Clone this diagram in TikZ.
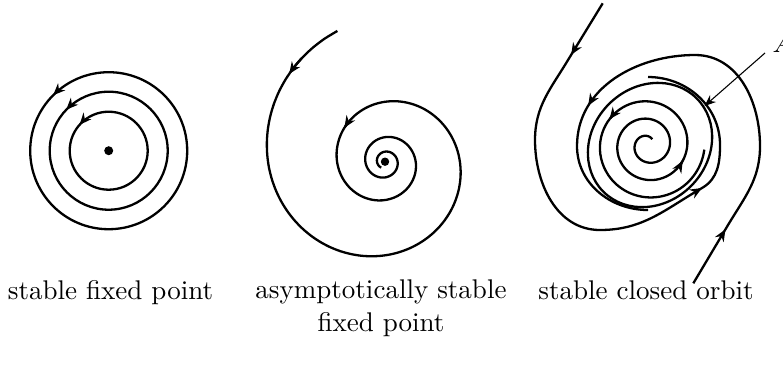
\documentclass[tikz,border=0pt]{standalone}
\usetikzlibrary{arrows.meta,decorations.markings}

\begin{document}
\begin{tikzpicture}[x=0.37pt,y=0.37pt,
                    declare function={rs(\t)=117*exp(-0.142*(\t-pi)); ri(\t)=4.5+2.77*\t;},
                    orb/.style={line width=0.85pt},
                    tip/.style={orb,-{Stealth[length=4.4pt,width=3.7pt]}},
                    ar/.style={postaction={decorate,decoration={markings,mark=at position #1 with {\arrow{Stealth[length=4.4pt,width=3.7pt]}}}}},
                    ptr/.style={line width=0.4pt,-{Stealth[length=4.2pt,width=3.4pt]}},
                    lab/.style={anchor=base,align=center,inner sep=0pt}]
  \useasboundingbox (0,0) rectangle (783,371);
  % stable fixed point
  \coordinate (c1) at (108.7,220.3);
  \foreach \r/\p in {39/0.385, 59/0.378, 78.5/0.375}
    \draw[orb,ar=\p] (c1) circle[radius=\r];
  \fill (c1) circle[radius=4.5];
  % asymptotically stable fixed point
  \coordinate (c2) at (385,209.3);
  \draw[orb,shift={(c2)}] plot[smooth,samples=200,domain=1.92:23,variable=\t]
       ({rs(\t)*cos(\t r)},{rs(\t)*sin(\t r)});
  \foreach \a in {2.40,8.73}
    \draw[tip,shift={(c2)}] plot[smooth,samples=5,domain=\a-0.15:\a,variable=\t]
       ({rs(\t)*cos(\t r)},{rs(\t)*sin(\t r)});
  \fill (c2) circle[radius=4.2];
  % stable closed orbit
  \coordinate (c3) at (648,226);
  \coordinate (c4) at (650,226);
  \draw[orb] (c4) ellipse[x radius=66,y radius=58,rotate=45];
  \draw[orb,shift={(c3)}] plot[smooth,samples=200,domain=0.94:18.77,variable=\t]
       ({ri(\t)*cos(\t r)},{ri(\t)*sin(\t r)});
  \foreach \a in {12.14,15.12}
    \draw[tip,shift={(c3)}] plot[smooth,samples=5,domain=\a-0.15:\a,variable=\t]
       ({ri(\t)*cos(\t r)},{ri(\t)*sin(\t r)});
  % outer orbits
  \coordinate (t1) at (602.7,367.7);
  \coordinate (e1) at (648,294);
  \draw[orb,ar=0.11,ar=0.71] (t1) -- (568,311) to[out=239,in=90] (535,231) to[out=270,in=180] (600,141)
       to[out=0,in=210] (702,183) to[out=30,in=270] (720,226) to[out=90,in=0] (e1);
  \coordinate (t2) at (693.3,87.7);
  \coordinate (e2) at (648,161);
  \draw[orb,ar=0.114,ar=0.73] (t2) -- (728,146) to[out=59,in=270] (760,225) to[out=90,in=0] (695,316)
       to[out=180,in=90] (577,225) to[out=270,in=180] (e2);
  \node[anchor=base west,inner sep=0pt] (lblA) at (772,319) {$A$};
  \coordinate (pa) at (765,318);
  \coordinate (pb) at (704.5,265);
  \draw[ptr] (pa) -- (pb);
  % labels
  \node[lab] (lab1) at (110.5,72) {stable fixed point};
  \node[lab] (lab2) at (381,40) {asymptotically stable\\fixed point};
  \node[lab] (lab3) at (646,72) {stable closed orbit};
\end{tikzpicture}
\end{document}
